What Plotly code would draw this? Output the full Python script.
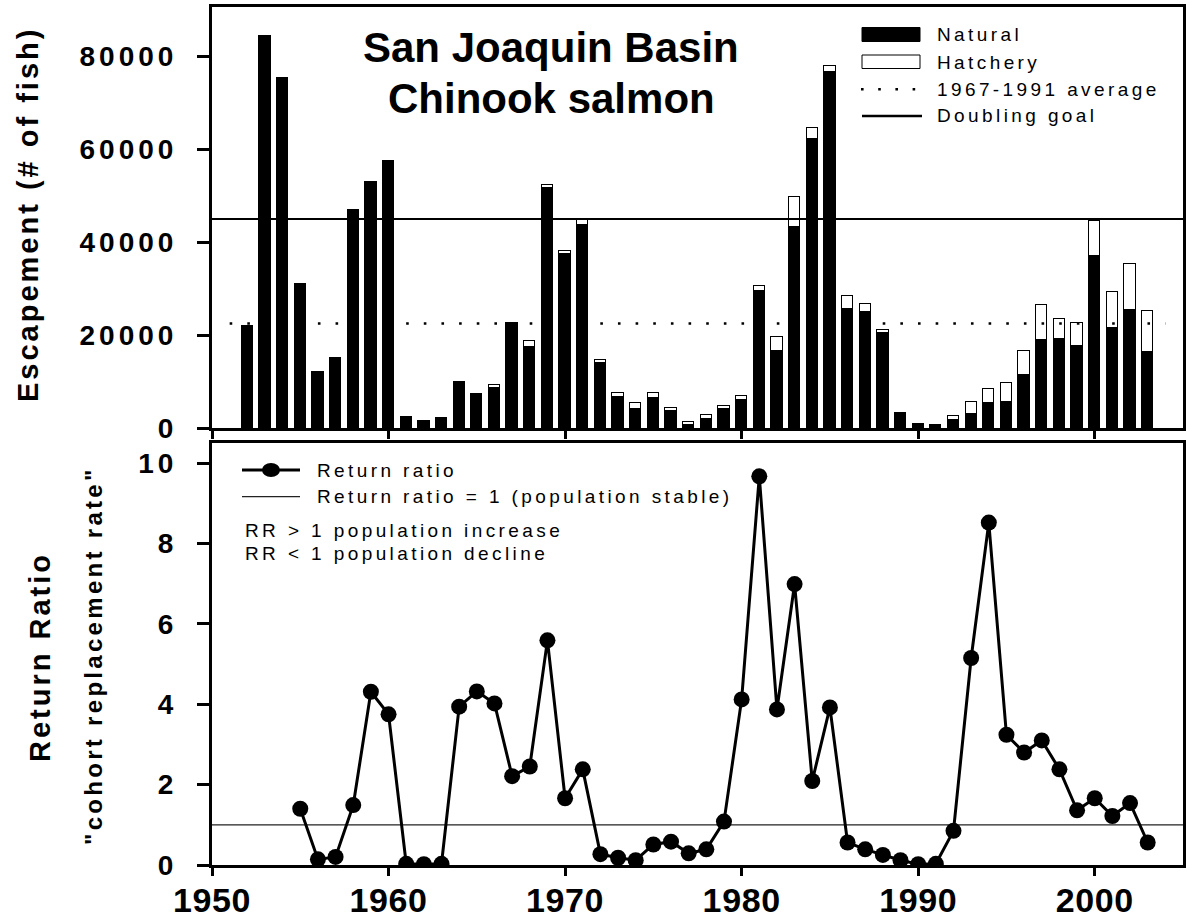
import plotly.graph_objects as go

# ---- data ----
years = list(range(1952, 2004))
natural = [21900, 84400, 75300, 30900, 12100, 15100, 47000, 52900, 57400, 2400,
           1500, 2100, 9600, 7100, 8600, 22300, 17400, 51700, 37400, 43600,
           13900, 6700, 4000, 6400, 3600, 600, 2000, 4000, 6000, 29500,
           16600, 43200, 62100, 76600, 25600, 24900, 20500, 3100, 750, 600,
           1700, 3000, 5300, 5500, 11400, 18900, 19100, 17600, 37000, 21500,
           25300, 16400]
total = [21900, 84400, 75300, 30900, 12100, 15100, 47000, 52900, 57400, 2400,
         1500, 2100, 10000, 7400, 9200, 22700, 18700, 52400, 38100, 44700,
         14600, 7500, 5400, 7500, 4400, 1300, 2900, 4700, 6800, 30600,
         19600, 49700, 64500, 77900, 28500, 26700, 21000, 3200, 950, 730,
         2600, 5600, 8300, 9600, 16500, 26500, 23500, 22500, 44600, 29200,
         35400, 25200]
hatchery = [t - n for t, n in zip(total, natural)]

avg_1967_1991 = 22480
doubling_goal = 45000

rr_years = list(range(1955, 2004))
return_ratio = [1.40, 0.14, 0.20, 1.49, 4.31, 3.75, 0.03, 0.02, 0.03, 3.94,
                4.32, 4.02, 2.21, 2.45, 5.59, 1.66, 2.38, 0.27, 0.18, 0.12,
                0.51, 0.58, 0.29, 0.39, 1.08, 4.12, 9.67, 3.87, 6.99, 2.09,
                3.92, 0.56, 0.39, 0.25, 0.12, 0.02, 0.03, 0.85, 5.15, 8.52,
                3.24, 2.80, 3.10, 2.38, 1.36, 1.66, 1.22, 1.54, 0.56]
rr_stable = 1

x_ticks = [1950, 1960, 1970, 1980, 1990, 2000]
esc_ticks = [0, 20000, 40000, 60000, 80000]
rr_ticks = [0, 2, 4, 6, 8, 10]

# ---- geometry helpers (pixel -> paper) ----
W, H = 1192, 920
ML, MR, MT, MB = 212, 9, 7, 55
PW, PH = W - ML - MR, H - MT - MB
FONT = "Liberation Sans, Arial, Helvetica, sans-serif"


def px(x):
    return (x - ML) / PW


def py(y):
    return (H - MB - y) / PH


def spaced(text, s):
    return f'<span style="letter-spacing:{s}px">{text}</span>'


TOP_DOMAIN = [py(428), 1.0]
BOT_DOMAIN = [0.0, py(443)]

fig = go.Figure()

# escapement bars
fig.add_trace(go.Bar(x=years, y=natural, width=0.64, xaxis="x", yaxis="y",
                     marker=dict(color="black", line=dict(color="black", width=1)),
                     name="Natural"))
fig.add_trace(go.Bar(x=years, y=hatchery, width=0.64, xaxis="x", yaxis="y",
                     marker=dict(color="white", line=dict(color="black", width=1)),
                     name="Hatchery"))
# reference lines in the escapement panel
fig.add_trace(go.Scatter(x=[1951, 2004], y=[avg_1967_1991] * 2, mode="lines",
                         xaxis="x", yaxis="y", name="1967-1991 average",
                         line=dict(color="black", width=2.6, dash="2.6px,15.05px")))
fig.add_trace(go.Scatter(x=[1950, 2005], y=[doubling_goal] * 2, mode="lines",
                         xaxis="x", yaxis="y", name="Doubling goal",
                         line=dict(color="black", width=2)))

# return ratio panel
fig.add_trace(go.Scatter(x=[1950, 2005], y=[rr_stable] * 2, mode="lines",
                         xaxis="x2", yaxis="y2",
                         line=dict(color="#222", width=1.2)))
fig.add_trace(go.Scatter(x=rr_years, y=return_ratio, mode="lines+markers",
                         xaxis="x2", yaxis="y2", name="Return ratio",
                         line=dict(color="black", width=3),
                         marker=dict(color="black", size=16, symbol="circle")))

axis_common = dict(showline=True, linecolor="black", linewidth=3, mirror=True,
                   ticks="outside", tickcolor="black", tickwidth=3,
                   showgrid=False, zeroline=False, automargin=False)

fig.update_layout(
    width=W, height=H,
    margin=dict(l=ML, r=MR, t=MT, b=MB, autoexpand=False),
    paper_bgcolor="white", plot_bgcolor="white",
    barmode="stack", bargap=0, showlegend=False,
    font=dict(family=FONT, color="black"),
    xaxis=dict(domain=[0, 1], anchor="y", range=[1950, 2005],
               tickvals=x_ticks, showticklabels=False, ticklen=8, **axis_common),
    yaxis=dict(domain=TOP_DOMAIN, anchor="x", range=[0, 90600],
               tickvals=esc_ticks, ticktext=[spaced(str(v), 4) for v in esc_ticks],
               tickfont=dict(size=28, weight="bold", family=FONT),
               ticklen=12, ticklabelstandoff=14, **axis_common),
    xaxis2=dict(domain=[0, 1], anchor="y2", range=[1950, 2005],
                tickvals=x_ticks, ticktext=[spaced(str(v), 0.6) for v in x_ticks],
                tickfont=dict(size=34, weight="bold", family=FONT),
                ticklen=8, ticklabelstandoff=-5, **axis_common),
    yaxis2=dict(domain=BOT_DOMAIN, anchor="x2", range=[0, 10.5],
                tickvals=rr_ticks, ticktext=[spaced(str(v), 4) for v in rr_ticks],
                tickfont=dict(size=28, weight="bold", family=FONT),
                ticklen=12, ticklabelstandoff=14, **axis_common),
)

ann = []
shapes = []

# chart title
ann.append(dict(x=px(551), y=py(48), text="San Joaquin Basin",
                font=dict(size=42, weight="bold", family=FONT)))
ann.append(dict(x=px(551), y=py(98), text="Chinook salmon",
                font=dict(size=42, weight="bold", family=FONT)))

# axis titles
ann.append(dict(x=px(28), y=py(215), text=spaced("Escapement (# of fish)", 3),
                textangle=-90, font=dict(size=29, weight="bold", family=FONT)))
ann.append(dict(x=px(40), y=py(657), text=spaced("Return Ratio", 3),
                textangle=-90, font=dict(size=29, weight="bold", family=FONT)))
ann.append(dict(x=px(93), y=py(656), text=spaced('"cohort replacement rate"', 3.3),
                textangle=-90, font=dict(size=24, weight="bold", family=FONT)))

# escapement legend
LEG_FONT = dict(size=19, family=FONT, color="black")
shapes.append(dict(type="rect", xref="paper", yref="paper",
                   x0=px(862), x1=px(920), y0=py(41.5), y1=py(27.5),
                   fillcolor="black", line=dict(color="black", width=1)))
shapes.append(dict(type="rect", xref="paper", yref="paper",
                   x0=px(862), x1=px(920), y0=py(68.5), y1=py(55),
                   fillcolor="white", line=dict(color="black", width=1)))
shapes.append(dict(type="line", xref="paper", yref="paper",
                   x0=px(861), x1=px(916), y0=py(89.3), y1=py(89.3),
                   line=dict(color="black", width=2.6, dash="2.6px,14.6px")))
shapes.append(dict(type="line", xref="paper", yref="paper",
                   x0=px(862), x1=px(922), y0=py(116), y1=py(116),
                   line=dict(color="black", width=2.5)))
for label, yc in [("Natural", 34.7), ("Hatchery", 62.3),
                  ("1967-1991 average", 89.3), ("Doubling goal", 116)]:
    ann.append(dict(x=px(935), y=py(yc), text=spaced(label, 3.4),
                    xanchor="left", font=LEG_FONT))

# return ratio legend
shapes.append(dict(type="line", xref="paper", yref="paper",
                   x0=px(242), x1=px(300), y0=py(470), y1=py(470),
                   line=dict(color="black", width=3)))
shapes.append(dict(type="circle", xref="paper", yref="paper",
                   x0=px(262), x1=px(280), y0=py(477), y1=py(463),
                   fillcolor="black", line=dict(color="black", width=0)))
shapes.append(dict(type="line", xref="paper", yref="paper",
                   x0=px(242), x1=px(300), y0=py(496.7), y1=py(496.7),
                   line=dict(color="#222", width=1.2)))
ann.append(dict(x=px(315), y=py(470), text=spaced("Return ratio", 3.4),
                xanchor="left", font=LEG_FONT))
ann.append(dict(x=px(315), y=py(496.7),
                text=spaced("Return ratio = 1 (population stable)", 3.4),
                xanchor="left", font=LEG_FONT))
ann.append(dict(x=px(243), y=py(530), text=spaced("RR &gt; 1 population increase", 3.4),
                xanchor="left", font=LEG_FONT))
ann.append(dict(x=px(243), y=py(553.3), text=spaced("RR &lt; 1 population decline", 3.4),
                xanchor="left", font=LEG_FONT))

for a in ann:
    a.setdefault("xref", "paper")
    a.setdefault("yref", "paper")
    a.setdefault("showarrow", False)
    a.setdefault("xanchor", "center")
    a.setdefault("yanchor", "middle")

fig.update_layout(annotations=ann, shapes=shapes)

fig.write_html("out.html")
